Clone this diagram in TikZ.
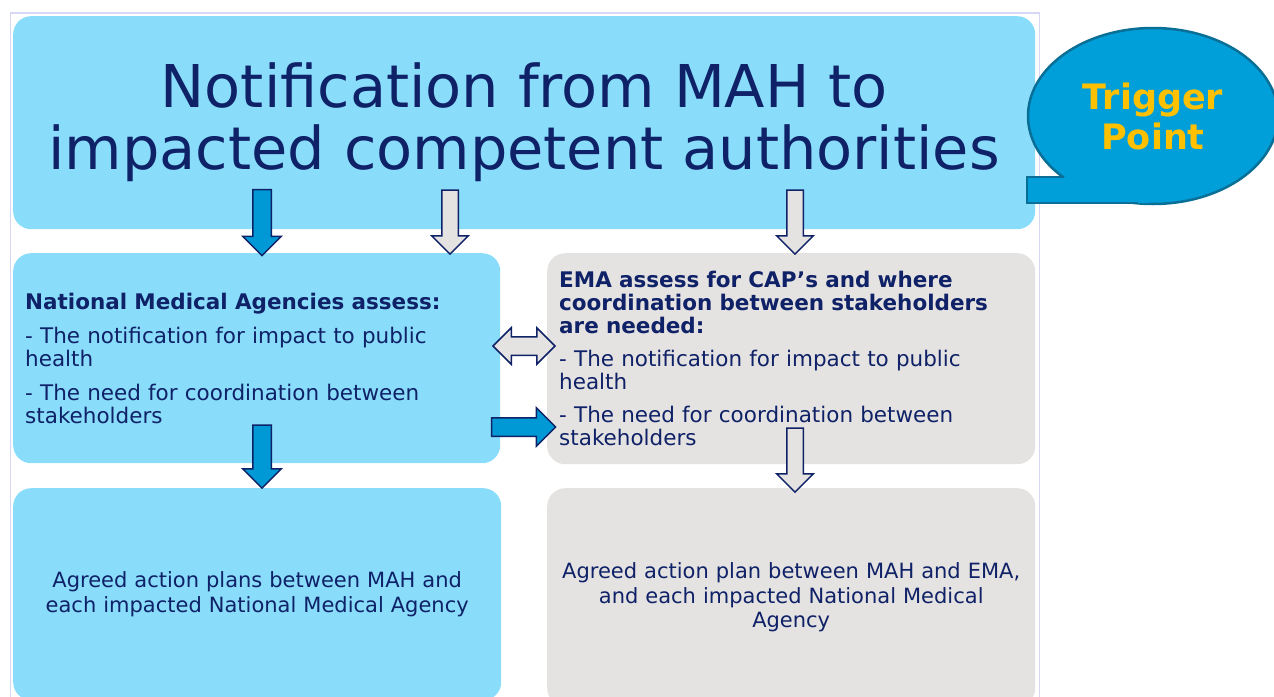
\documentclass[tikz,border=0pt]{standalone}
\usepackage{fontspec}
\setmainfont{DejaVu Sans}
\usepackage{tikz}
\usetikzlibrary{shapes,arrows,positioning}
\definecolor{skyfill}{HTML}{89DDFB}
\definecolor{greyfill}{HTML}{E5E3E1}
\definecolor{inknavy}{HTML}{0F2167}
\definecolor{arrowblue}{HTML}{0099D5}
\definecolor{bubblefill}{HTML}{009FD9}
\definecolor{bubbleline}{HTML}{0A6F96}
\definecolor{triggergold}{HTML}{FFC000}
\definecolor{framelilac}{HTML}{D5D7F5}
\newcommand{\titletext}{\fontsize{59}{62}\selectfont}
\newcommand{\boxtext}{\fontsize{21.5}{23}\selectfont}
\newcommand{\plantext}{\fontsize{21}{24.5}\selectfont}
\tikzstyle{skybox} = [rectangle, rounded corners=18pt, fill=skyfill, text=inknavy, inner xsep=12pt, inner ysep=0pt]
\tikzstyle{greybox} = [skybox, fill=greyfill]
\tikzstyle{planbox} = [inner xsep=4pt, text width=480pt, minimum width=488pt, minimum height=212pt, align=center, font=\plantext]
\tikzstyle{bluedown} = [single arrow, draw=inknavy, fill=arrowblue, line width=1.5pt, inner xsep=0pt, inner ysep=8.5pt, single arrow head extend=10pt, rotate=-90]
\tikzstyle{greydown} = [bluedown, fill=greyfill, inner ysep=7.5pt]
\tikzstyle{blueright} = [bluedown, rotate=90]
\tikzstyle{greyboth} = [double arrow, draw=inknavy, fill=greyfill, line width=1.5pt, inner xsep=0pt, inner ysep=8.5pt, double arrow head extend=9pt]
\tikzstyle{bubble} = [ellipse, fill=bubblefill, draw=bubbleline, line width=2.5pt, minimum width=250pt, minimum height=176pt, inner sep=0pt, text=triggergold, align=center, font=\bfseries\fontsize{35}{40}\selectfont]
\tikzstyle{line} = [draw, bubbleline, line width=2.5pt]

\begin{document}
\begin{tikzpicture}[x=1pt, y=-1pt]
	\useasboundingbox (0,0) rectangle (1274,696);
	\clip (0,0) rectangle (1274,696);
	\draw [framelilac, line width=1.5pt] (10.5,13) rectangle (1039.5,710);

	\node [skybox, anchor=north west, minimum width=1022pt, minimum height=213pt, align=center, font=\titletext] (notify) at (13,16) {Notification from MAH to\\impacted competent authorities};
	\node [skybox, anchor=north west, minimum width=487pt, minimum height=210pt, text width=463pt, align=left, font=\boxtext] (nmaassess) at (13,253) {\textbf{National Medical Agencies assess:}\\[11pt]- The notification for impact to public\\health\\[11pt]- The need for coordination between\\stakeholders};
	\node [greybox, anchor=north west, minimum width=488pt, minimum height=211pt, text width=464pt, align=left, font=\boxtext] (emaassess) at (547,253) {\textbf{EMA assess for CAP’s and where}\\\textbf{coordination between stakeholders}\\\textbf{are needed:}\\[10pt]- The notification for impact to public\\health\\[10pt]- The need for coordination between\\stakeholders};
	\node [skybox, planbox, anchor=north west, minimum width=487pt] (nmaplan) at (13,488) {Agreed action plans between MAH and\\each impacted National Medical Agency};
	\node [greybox, planbox, anchor=north west, minimum height=218pt] (emaplan) at (547,488) {Agreed action plan between MAH and EMA,\\and each impacted National Medical\\Agency};

	\node [bubble] (trigger) at (1153,116) {Trigger\\Point};
	\fill [bubblefill] (1027,177) -- (1078,177) -- (1150,203) -- (1027,203) -- cycle;
	\path [line] (1064,177) -- (1027,177) -- (1027,203) -- (1138,203);

	\node [bluedown, minimum height=66pt] (downnma) at (262,218) {};
	\node [greydown, minimum height=64pt] (downema) at (450,218) {};
	\node [greydown, minimum height=64pt] (downcap) at (795,218) {};
	\node [greyboth, minimum height=62pt] (exchange) at (524,346) {};
	\node [blueright, minimum height=64pt] (toema) at (519,427) {};
	\node [bluedown, minimum height=63pt] (downplan) at (262,452) {};
	\node [greydown, minimum height=64pt] (downemaplan) at (795,456) {};
\end{tikzpicture}
\end{document}
